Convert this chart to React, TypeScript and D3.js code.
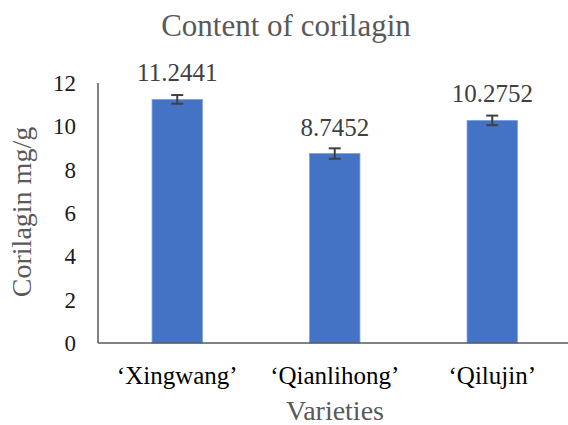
import React from "react";
import * as d3 from "d3";

const categories = ["‘Xingwang’", "‘Qianlihong’", "‘Qilujin’"];
const values = [11.2441, 8.7452, 10.2752];
const errors = [0.2, 0.24, 0.22];
const valueLabels = ["11.2441", "8.7452", "10.2752"];
const yTicks = [0, 2, 4, 6, 8, 10, 12];

const W = 568;
const H = 425;
const FONT = '"Liberation Serif", Tinos, "Times New Roman"';

export default function App() {
  const x = d3.scaleBand<string>().domain(categories).range([98.5, 571]).paddingInner(0.68).paddingOuter(0.34);
  const y = d3.scaleLinear().domain([0, 12]).range([343, 83]);
  const bw = x.bandwidth();
  return (
    <svg
      width={W}
      height={H}
      fontFamily="Liberation Serif"
      style={{ position: "absolute", left: 0, top: 0, background: "#fff", fontFamily: FONT }}
    >
      <style>{`text { font-family: ${FONT}; }`}</style>
      <text x={286} y={36} textAnchor="middle" fontSize={31} fill="#595959">
        Content of corilagin
      </text>
      {yTicks.map((t) => (
        <text key={t} x={76} y={y(t)} dy="0.35em" textAnchor="end" fontSize={23} fill="#1a1a1a">
          {String(t)}
        </text>
      ))}
      <text transform={`translate(31,212) rotate(-90)`} textAnchor="middle" fontSize={28} fill="#595959">
        Corilagin mg/g
      </text>
      {categories.map((c, i) => {
        const x0 = x(c)!;
        const cx = x0 + bw / 2;
        const top = y(values[i]);
        return (
          <g key={c}>
            <rect x={x0} y={top} width={bw} height={y(0) - top} fill="#4472C4" stroke="#7fa0dc" strokeWidth={0.8} />
            <g stroke="#404040" strokeWidth={2}>
              <line x1={cx} x2={cx} y1={y(values[i] + errors[i])} y2={y(values[i] - errors[i])} />
              <line x1={cx - 6} x2={cx + 6} y1={y(values[i] + errors[i])} y2={y(values[i] + errors[i])} />
              <line x1={cx - 6} x2={cx + 6} y1={y(values[i] - errors[i])} y2={y(values[i] - errors[i])} />
            </g>
            <text x={cx} y={top - 18} textAnchor="middle" fontSize={25} fill="#404040">
              {valueLabels[i]}
            </text>
            <text x={cx} y={384} textAnchor="middle" fontSize={25} fill="#000">
              {c}
            </text>
          </g>
        );
      })}
      <line x1={98} x2={98} y1={y(12)} y2={y(0)} stroke="#595959" strokeWidth={1.5} />
      <line x1={98} x2={W} y1={y(0)} y2={y(0)} stroke="#595959" strokeWidth={1.5} />
      <text x={335} y={420} textAnchor="middle" fontSize={28} fill="#595959">
        Varieties
      </text>
    </svg>
  );
}
